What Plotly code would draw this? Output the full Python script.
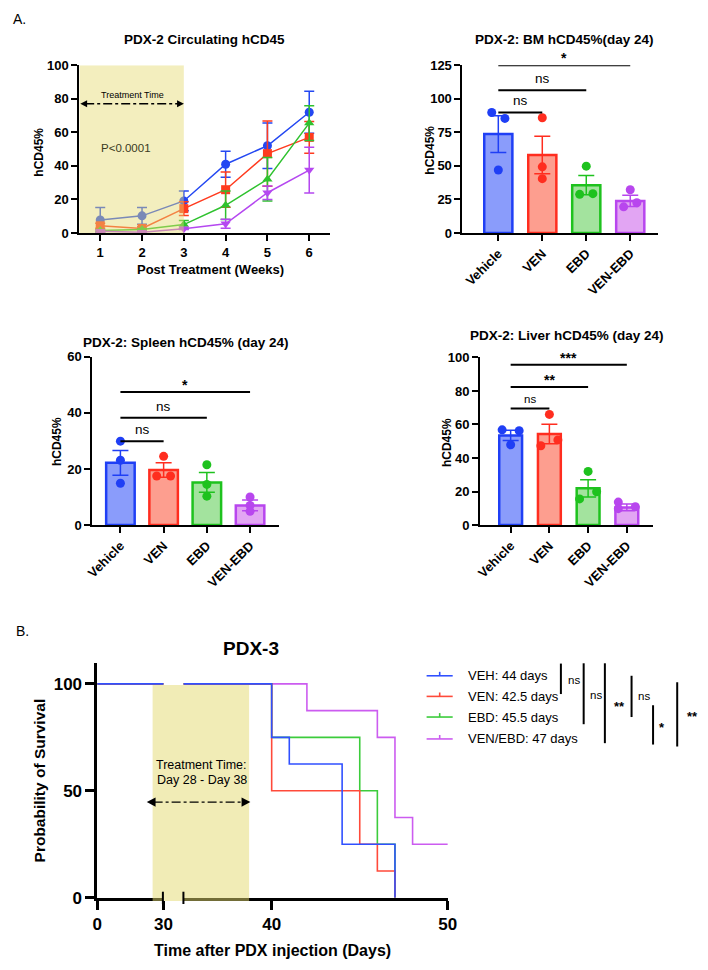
import plotly.graph_objects as go

W, H = 708, 970
FONT = "Liberation Sans, Arial, sans-serif"

def xp(v):
    return v / W

def yp(v):
    return 1 - v / H

# ---------------- data ----------------
weeks = [1, 2, 3, 4, 5, 6]
line_groups = ["Vehicle", "VEN", "EBD", "VEN-EBD"]
circ_mean = {
    "Vehicle": [7.8, 10.2, 19.1, 41.0, 52.0, 72.0],
    "VEN": [4.3, 2.7, 14.5, 25.8, 47.3, 57.0],
    "EBD": [1.5, 2.0, 5.0, 16.5, 32.0, 65.5],
    "VEN-EBD": [1.0, 0.5, 2.5, 5.5, 24.0, 37.5],
}
circ_sem = {
    "Vehicle": [7.4, 5.0, 5.9, 7.8, 13.6, 12.5],
    "VEN": [1.5, 1.0, 4.1, 10.5, 19.5, 9.4],
    "EBD": [0.6, 0.6, 2.5, 8.5, 13.0, 10.3],
    "VEN-EBD": [0.5, 0.3, 0.5, 2.7, 4.0, 13.6],
}

categories = ["Vehicle", "VEN", "EBD", "VEN-EBD"]

bm_mean = [73.7, 58.1, 35.6, 23.9]
bm_sem = [13.7, 14.0, 7.2, 4.2]
bm_points = [[89.8, 85.4, 46.9], [85.9, 49.3, 40.5], [49.8, 28.8, 29.3], [32.2, 19.5, 22.5]]
bm_jitter = [[-1, 1, 0], [0, 0, 0], [0, -1, 1], [0, -1, 1]]
bm_sig = [(1, "ns", 89.8), (2, "ns", 106.4), (3, "*", 125.0)]

spl_mean = [22.2, 19.6, 15.2, 7.0]
spl_sem = [4.4, 2.6, 3.5, 1.9]
spl_points = [[29.9, 23.1, 14.9], [24.5, 17.5, 17.5], [21.5, 14.5, 10.3], [10.0, 7.0, 4.9]]
spl_jitter = [[0, 0, 0], [0, -1, 1], [0, 0, 0], [0, 0, 0]]
spl_sig = [(1, "ns", 29.9), (2, "ns", 38.3), (3, "*", 47.4)]

liv_mean = [53.5, 54.3, 21.9, 10.5]
liv_sem = [3.0, 5.8, 5.1, 2.0]
liv_points = [[56.8, 56.3, 47.9], [66.0, 47.3, 50.8], [32.0, 15.6, 19.9], [13.7, 9.8, 10.9]]
liv_jitter = [[-1, 1, 0], [0, -1, 1], [0, -1, 1], [-1, -1, 1]]
liv_sig = [(1, "ns", 69.5), (2, "**", 82.4), (3, "***", 95.7)]

km_groups = ["VEH: 44 days", "VEN: 42.5 days", "EBD: 45.5 days", "VEN/EBD: 47 days"]
km_time = [
    [0, 40, 41, 44, 47],
    [0, 40, 45, 46, 47],
    [0, 40, 45, 46, 47],
    [0, 42, 46, 47, 48, 50],
]
km_surv = [
    [100, 75, 62.5, 25, 0],
    [100, 50, 25, 12.5, 0],
    [100, 75, 50, 25, 0],
    [100, 87.5, 75, 37.5, 25, 25],
]
km_sig = [(0, 1, "ns"), (0, 2, "ns"), (0, 3, "**"), (1, 2, "ns"), (2, 3, "*"), (1, 3, "**")]

# ---------------- styles ----------------
line_col = {"Vehicle": "#2448f2", "VEN": "#ff3b1f", "EBD": "#2fc22f", "VEN-EBD": "#b548f0"}
line_sym = {"Vehicle": "circle", "VEN": "square", "EBD": "triangle-up", "VEN-EBD": "triangle-down"}
bar_edge = ["#1f3ff5", "#ff2d1f", "#1ec21e", "#b846ee"]
bar_fill = ["#8a9cfb", "#fd9e8f", "#a3e39e", "#e2a5f3"]
km_col = ["#3050ff", "#ff4a3a", "#3ccc3c", "#cc5cf0"]

fig = go.Figure()
shapes = []
annotations = []


def ann(x, y, text, size=12, bold=False, color="black", angle=0, xanchor="center", yanchor="middle"):
    annotations.append(dict(
        x=xp(x), y=yp(y), xref="paper", yref="paper", text=("<b>%s</b>" % text) if bold else text,
        showarrow=False, font=dict(family=FONT, size=size, color=color), textangle=angle,
        xanchor=xanchor, yanchor=yanchor))


def axis_common(**kw):
    d = dict(showline=True, linecolor="black", linewidth=2, ticks="outside", ticklen=5, tickwidth=2,
             tickcolor="black", showgrid=False, zeroline=False,
             tickfont=dict(family=FONT, size=13, color="black", weight="bold"))
    d.update(kw)
    return d


# ---------------- line chart ----------------
for g in line_groups:
    fig.add_trace(go.Scatter(
        x=weeks, y=circ_mean[g], mode="lines+markers", xaxis="x", yaxis="y",
        line=dict(color=line_col[g], width=1.5),
        marker=dict(symbol=line_sym[g], size=9, color=line_col[g]),
        error_y=dict(type="data", array=circ_sem[g], color=line_col[g], thickness=1.5, width=5),
        showlegend=False, cliponaxis=False))

shapes.append(dict(type="rect", xref="x", yref="y", x0=0.5, x1=3, y0=0, y1=100, layer="above",
                   fillcolor="rgba(228,218,110,0.45)", line=dict(width=0)))
# Treatment arrow (line chart)
shapes.append(dict(type="line", xref="paper", yref="paper", x0=xp(80), x1=xp(176), y0=yp(98.5), y1=yp(98.5),
                   line=dict(color="black", width=1.3, dash="dashdot")))
for xa, xb in [(75, 82), (181, 174)]:
    shapes.append(dict(type="path", xref="paper", yref="paper",
                       path="M %f %f L %f %f L %f %f Z" % (xp(xa), yp(98.5), xp(xb), yp(95), xp(xb), yp(102)),
                       fillcolor="black", line=dict(width=0)))
ann(128, 90, "Treatment Time", size=9)
ann(122, 144, "P<0.0001", size=11.5, color="#3a3a22")
ann(202, 33, "PDX-2 Circulating hCD45", size=13.5, bold=True)
ann(208, 267, "Post Treatment (Weeks)", size=13, bold=True)
ann(33, 148, "hCD45%", size=12, bold=True, angle=-90)
ann(4, 12, "A.", size=14, xanchor="left")

fig.update_layout(
    xaxis=axis_common(domain=[xp(74), xp(330.6)], range=[0.5, 6.5], tickvals=weeks, anchor="y", ticklen=6),
    yaxis=axis_common(domain=[yp(230), yp(59.3)], range=[0, 100], tickvals=[0, 20, 40, 60, 80, 100],
                      anchor="x", ticklen=6),
)


# ---------------- bar charts ----------------
def bar_panel(n, means, sems, points, jitter, sig, ymax, ytick, xdom, ydom, xrange, bw, jscale,
              title, title_xy, ylab_xy, sig_size):
    xa = "x%d" % n
    ya = "y%d" % n
    idx = list(range(len(categories)))
    fig.add_trace(go.Bar(
        x=idx, y=means, xaxis=xa, yaxis=ya, width=bw,
        marker=dict(color=bar_fill, line=dict(color=bar_edge, width=2.5)),
        showlegend=False))
    for i in idx:
        fig.add_trace(go.Scatter(
            x=[i], y=[means[i]], mode="markers", xaxis=xa, yaxis=ya,
            marker=dict(size=1, color=bar_edge[i], opacity=0),
            error_y=dict(type="data", array=[sems[i]], color=bar_edge[i], thickness=1.5, width=8),
            showlegend=False))
        fig.add_trace(go.Scatter(
            x=[i + j * jscale for j in jitter[i]], y=points[i], mode="markers", xaxis=xa, yaxis=ya,
            marker=dict(size=9, color=bar_edge[i]), showlegend=False, cliponaxis=False))
    for (j, lab, lev) in sig:
        shapes.append(dict(type="line", xref=xa, yref=ya, x0=0, x1=j, y0=lev, y1=lev,
                           line=dict(color="black", width=2)))
        annotations.append(dict(x=j / 2, y=lev, xref=xa, yref=ya, text=lab if lab == "ns" else "<b>%s</b>" % lab,
                                showarrow=False, yanchor="bottom", yshift=2 if lab == "ns" else -3,
                                font=dict(family=FONT, size=sig_size if lab == "ns" else 14, color="black")))
    ann(title_xy[0], title_xy[1], title, size=13.5, bold=True)
    ann(ylab_xy[0], ylab_xy[1], "hCD45%", size=12, bold=True, angle=-90)
    fig.layout["xaxis%d" % n] = axis_common(
        domain=[xp(xdom[0]), xp(xdom[1])], range=xrange, tickvals=idx, ticktext=categories,
        tickangle=-45, anchor=ya, ticklen=6)
    fig.layout["yaxis%d" % n] = axis_common(
        domain=[yp(ydom[1]), yp(ydom[0])], range=[0, ymax], tickvals=ytick, anchor=xa, ticklen=6)


bar_panel(2, bm_mean, bm_sem, bm_points, bm_jitter, bm_sig, 125, [0, 25, 50, 75, 100, 125],
          (466, 666), (59.3, 230), [-0.815, 3.63], 0.64, 0.15,
          "PDX-2: BM hCD45%(day 24)", (570, 33), (433, 146), 13.5)
bar_panel(3, spl_mean, spl_sem, spl_points, spl_jitter, spl_sig, 60, [0, 20, 40, 60],
          (87.3, 278.3), (356, 527.3), [-0.65, 3.67], 0.66, 0.16,
          "PDX-2: Spleen hCD45% (day 24)", (183, 341), (51, 442), 13.5)
bar_panel(4, liv_mean, liv_sem, liv_points, liv_jitter, liv_sig, 100, [0, 20, 40, 60, 80, 100],
          (484, 660.7), (356.7, 527.3), [-0.79, 3.67], 0.59, 0.22,
          "PDX-2: Liver hCD45% (day 24)", (573, 334), (450, 443), 11.5)

# ---------------- Kaplan-Meier ----------------
order = [3, 2, 1, 0]
for xa in ["x5", "x6"]:
    for k in order:
        fig.add_trace(go.Scatter(
            x=km_time[k], y=km_surv[k], mode="lines", line_shape="hv", xaxis=xa, yaxis="y5",
            line=dict(color=km_col[k], width=1.6), showlegend=False))

shapes.append(dict(type="rect", xref="paper", yref="paper", x0=xp(149), x1=xp(247.7), y0=yp(910), y1=yp(690),
                   layer="above", fillcolor="rgba(228,218,110,0.5)", line=dict(width=0)))
# break marks
for bx in [159.5, 180.5]:
    shapes.append(dict(type="line", xref="paper", yref="paper", x0=xp(bx), x1=xp(bx), y0=yp(900.5), y1=yp(913),
                       line=dict(color="black", width=2)))
# arrow
shapes.append(dict(type="line", xref="paper", yref="paper", x0=xp(150), x1=xp(242), y0=yp(809.3), y1=yp(809.3),
                   line=dict(color="black", width=1.3, dash="dashdot")))
for xa_, xb_ in [(143, 152), (249, 240)]:
    shapes.append(dict(type="path", xref="paper", yref="paper",
                       path="M %f %f L %f %f L %f %f Z" % (xp(xa_), yp(809.3), xp(xb_), yp(804.5), xp(xb_), yp(814)),
                       fillcolor="black", line=dict(width=0)))
ann(199.5, 772, "Treatment Time:", size=12.5)
ann(199.5, 787, "Day 28 - Day 38", size=12.5)
ann(250, 653, "PDX-3", size=19, bold=True)
ann(272, 960, "Time after PDX injection (Days)", size=16, bold=True)
ann(33, 787, "Probability of Survival", size=15.5, bold=True, angle=-90)
ann(7, 635, "B.", size=14, xanchor="left")

km_font = dict(family=FONT, size=17, color="black", weight="bold")
fig.layout["xaxis5"] = axis_common(domain=[xp(92.3), xp(160)], range=[0, 30], tickvals=[0, 30], anchor="y5",
                                   ticklen=9, linewidth=2.5, tickwidth=2.5, tickfont=km_font)
fig.layout["xaxis6"] = axis_common(domain=[xp(180.7), xp(451)], range=[35, 50], tickvals=[40, 50], anchor="y5",
                                   ticklen=9, linewidth=2.5, tickwidth=2.5, tickfont=km_font)
fig.layout["yaxis5"] = axis_common(domain=[yp(906.7), yp(668)], range=[0, 109.6], tickvals=[0, 50, 100],
                                   anchor="x5", ticklen=9, linewidth=2.5, tickwidth=2.5, tickfont=km_font)

# legend (manual)
rows = [680.7, 701.7, 722.7, 745]
for k, ry in enumerate(rows):
    shapes.append(dict(type="line", xref="paper", yref="paper", x0=xp(429.3), x1=xp(456), y0=yp(ry), y1=yp(ry),
                       line=dict(color=km_col[k], width=1.6)))
    shapes.append(dict(type="line", xref="paper", yref="paper", x0=xp(442.7), x1=xp(442.7), y0=yp(ry), y1=yp(ry - 4),
                       line=dict(color=km_col[k], width=1.6)))
    ann(470, ry, km_groups[k], size=13, xanchor="left")

sig_x = [566.7, 590, 611.7, 639, 661, 685.7]
sig_y = [(668.3, 699.3), (668, 730), (668, 749.3), (680.7, 722.7), (710.7, 750.7), (687.3, 752.7)]
sig_t = [(580, 685), (602.7, 700.7), (626.7, 712), (651.7, 701.7), (670, 733), (701.7, 722)]
for i, (a, b, lab) in enumerate(km_sig):
    shapes.append(dict(type="line", xref="paper", yref="paper", x0=xp(sig_x[i]), x1=xp(sig_x[i]),
                       y0=yp(sig_y[i][0]), y1=yp(sig_y[i][1]), line=dict(color="black", width=2)))
    ann(sig_t[i][0], sig_t[i][1], lab, size=11.5 if lab == "ns" else 13, bold=(lab != "ns"))

fig.update_layout(
    width=W, height=H, margin=dict(l=0, r=0, t=0, b=0), autosize=False,
    paper_bgcolor="white", plot_bgcolor="white", showlegend=False,
    shapes=shapes, annotations=annotations, barmode="overlay",
    font=dict(family=FONT, color="black"),
)

fig.write_html("out.html")
